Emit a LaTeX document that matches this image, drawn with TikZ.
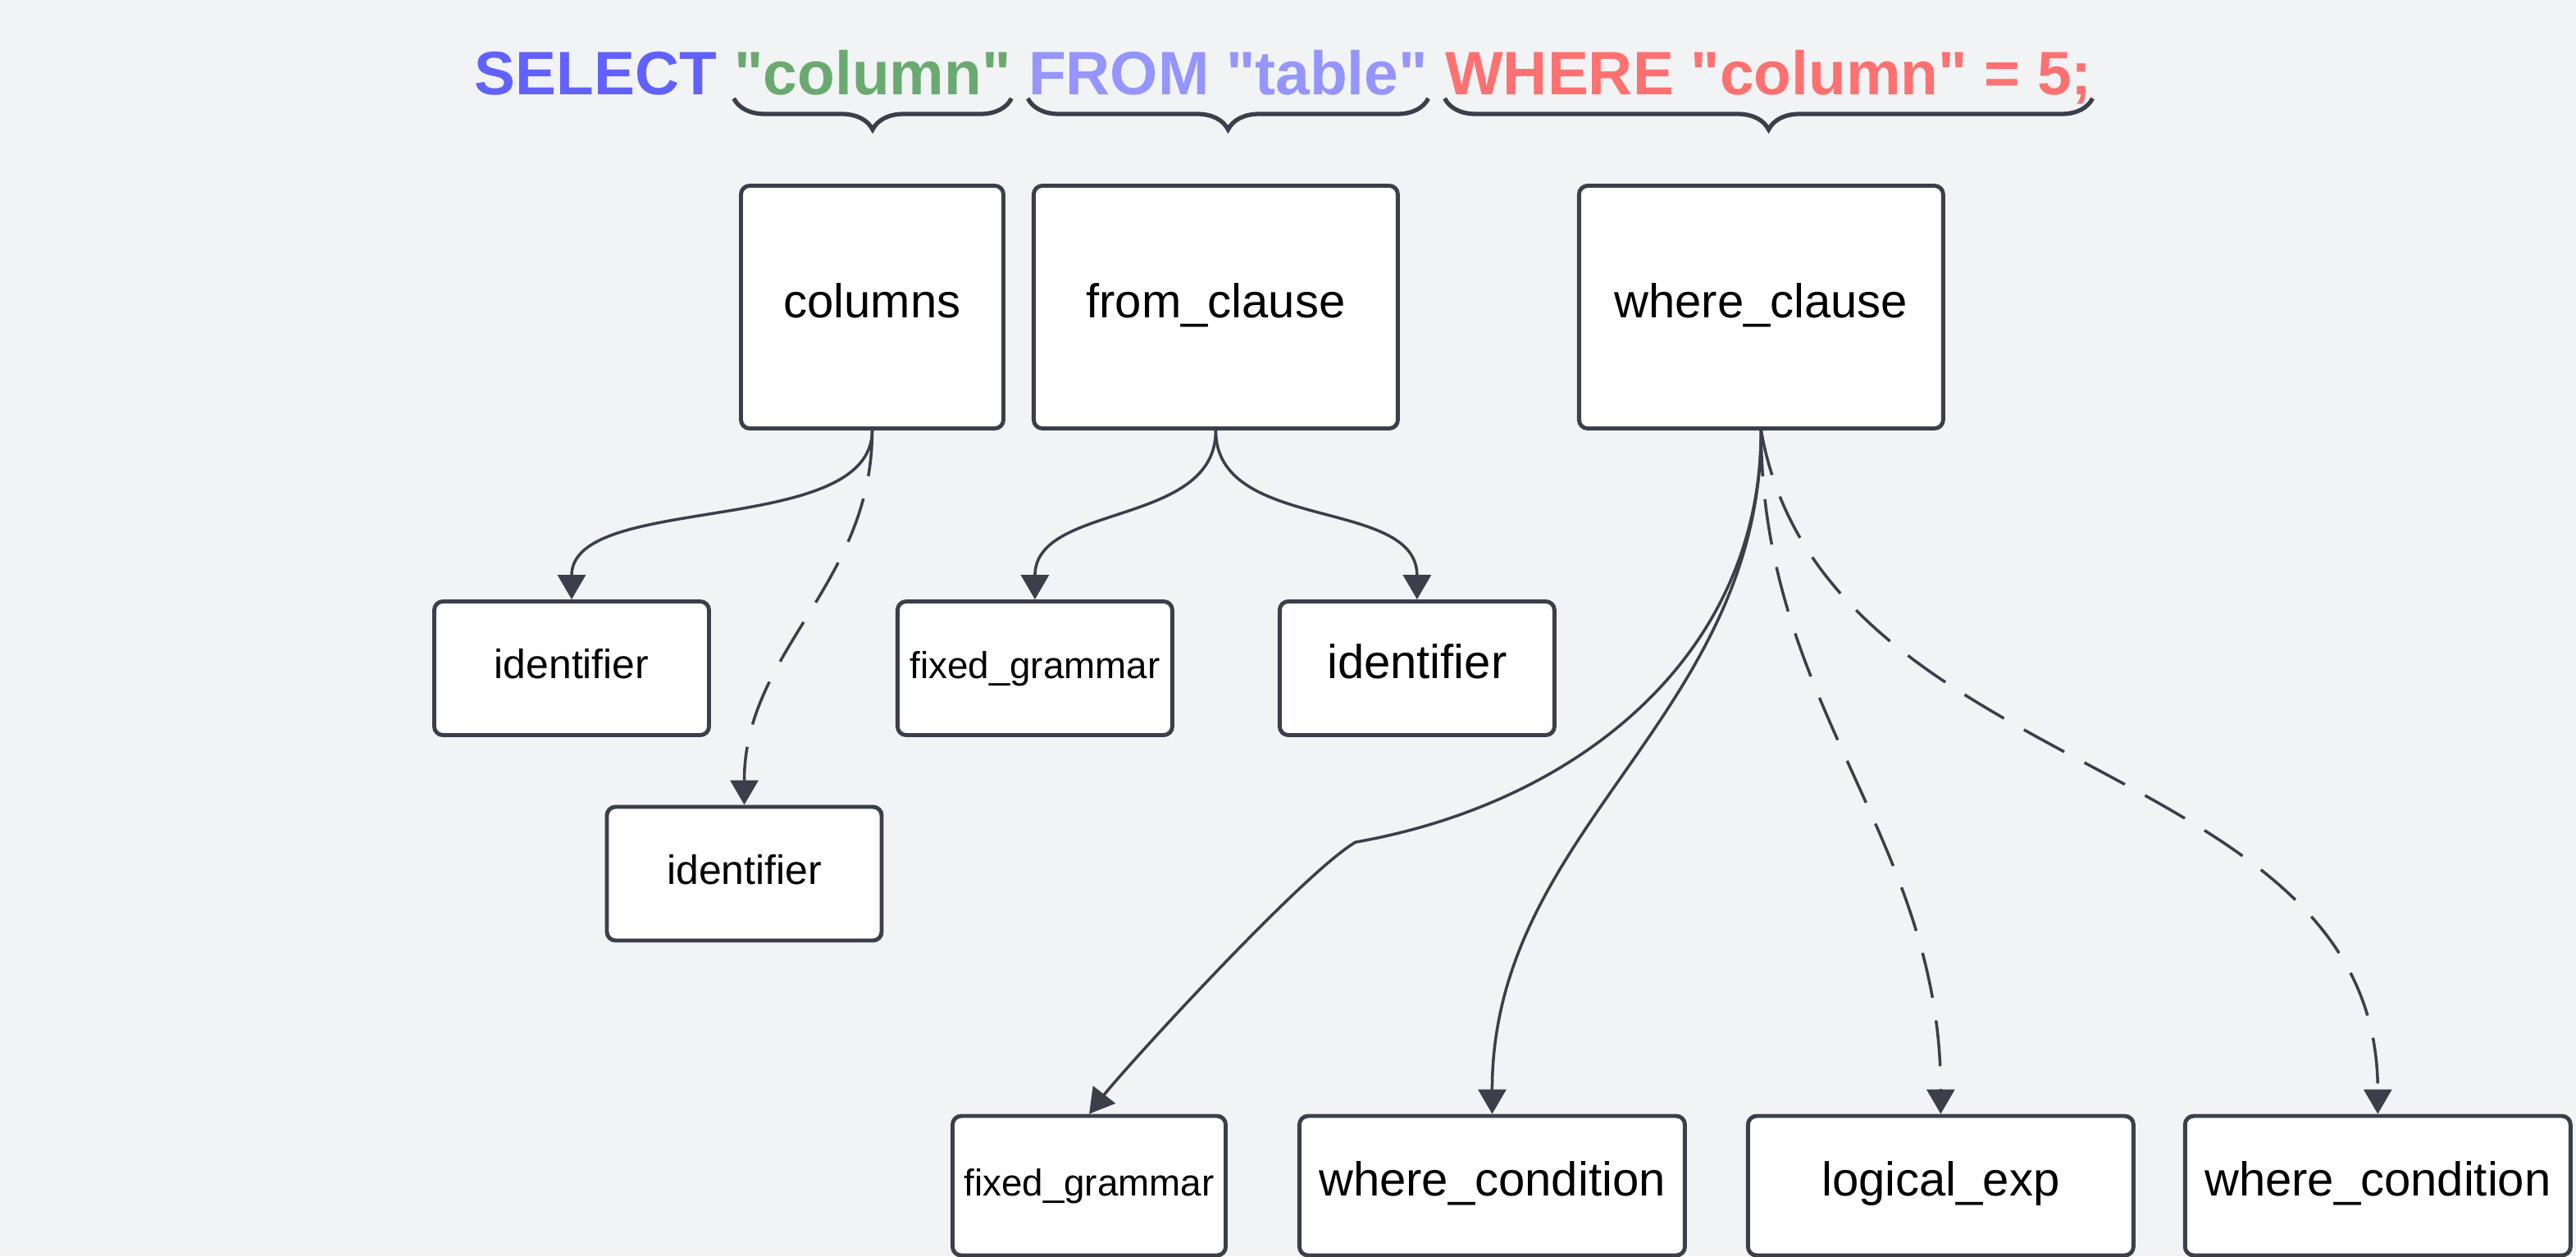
\documentclass[tikz,border=0pt]{standalone}
\usepackage{fontspec}
\setmainfont{Liberation Sans}[Ligatures=TeXOff]
\usetikzlibrary{arrows.meta, positioning, decorations.pathreplacing}
\definecolor{bgcol}{HTML}{F2F3F5}
\definecolor{edgecol}{HTML}{3A3F4A}
\definecolor{selcol}{HTML}{6161FF}
\definecolor{colcol}{HTML}{6AAA70}
\definecolor{fromcol}{HTML}{9595FF}
\definecolor{wherecol}{HTML}{FF7171}
\tikzset{
  bigbox/.style={rectangle, rounded corners=3pt, draw=edgecol, line width=1.4pt, fill=white,
    minimum height=2.96cm, text centered, text height=0.9em, text depth=0.18em,
    font=\fontsize{16.5}{18}\selectfont},
  midbox/.style={rectangle, rounded corners=3pt, draw=edgecol, line width=1.4pt, fill=white,
    minimum width=3.35cm, minimum height=1.63cm, text centered, text height=0.9em, text depth=0.18em,
    font=\fontsize{14.2}{16}\selectfont},
  lowbox/.style={rectangle, rounded corners=3pt, draw=edgecol, line width=1.4pt, fill=white,
    minimum width=4.7cm, minimum height=1.7cm, text centered, text height=0.9em, text depth=0.18em,
    font=\fontsize{16.5}{18}\selectfont},
  smalltext/.style={font=\fontsize{13}{15}\selectfont},
  bigtext/.style={font=\fontsize{16.5}{18}\selectfont},
  sqlpart/.style={inner sep=0pt, font=\fontsize{21.3}{24}\selectfont\bfseries},
  arr/.style={-{Triangle[length=0.3cm, width=0.34cm]}, line width=1pt, draw=edgecol},
  darr/.style={arr, dash pattern=on 0.56cm off 0.28cm},
  grp/.style={decorate, decoration={brace, mirror, amplitude=0.38cm}, line width=1.5pt, draw=edgecol},
}

\begin{document}
\begin{tikzpicture}
  \fill[bgcol] (0,0) rectangle (31.41,-15.32);
  \useasboundingbox (0,0) rectangle (31.41,-15.32);

  % Query
  \node[sqlpart, anchor=base west, text=selcol] (sel) at (5.78,-1.15) {SELECT};
  \node[sqlpart, base right=0.2cm of sel, text=colcol] (colq) {"column"};
  \node[sqlpart, base right=0.2cm of colq, text=fromcol] (fromq) {FROM "table"};
  \node[sqlpart, base right=0.2cm of fromq, text=wherecol] (whereq) {WHERE "column" = 5;};

  \draw[grp] ([yshift=-0.05cm]colq.base west) -- ([yshift=-0.05cm]colq.base east);
  \draw[grp] ([yshift=-0.05cm]fromq.base west) -- ([yshift=-0.05cm]fromq.base east);
  \draw[grp] ([yshift=-0.05cm]whereq.base west) -- ([yshift=-0.05cm]whereq.base east);

  % Clauses
  \node[bigbox, minimum width=3.2cm] (cols) at (10.635,-3.745) {columns};
  \node[bigbox, minimum width=4.44cm, right=0.32cm of cols] (from) {from\_clause};
  \node[bigbox, minimum width=4.44cm, right=2.16cm of from] (where) {where\_clause};

  % Second level
  \node[midbox] (idA) at (6.97,-8.15) {identifier};
  \node[midbox, smalltext, right=2.25cm of idA] (fixA) {fixed\_grammar};
  \node[midbox, bigtext, right=1.26cm of fixA] (idC) {identifier};
  \node[midbox] (idB) at (9.075,-10.655) {identifier};

  % Where parts
  \node[lowbox, smalltext, minimum width=3.33cm] (fixB) at (13.28,-14.46) {fixed\_grammar};
  \node[lowbox, right=0.85cm of fixB] (condA) {where\_condition};
  \node[lowbox, right=0.72cm of condA] (logic) {logical\_exp};
  \node[lowbox, right=0.58cm of logic] (condB) {where\_condition};

  \coordinate (kink) at (16.53,-10.27);

  % Arrows
  \draw[arr] (cols.south) to[out=-90, in=90, looseness=0.8] (idA.north);
  \draw[darr] (cols.south) to[out=-90, in=90] (idB.north);
  \draw[arr] (from.south) to[out=-90, in=90] (fixA.north);
  \draw[arr] (from.south) to[out=-90, in=90] (idC.north);
  \draw[arr] (where.south) to[out=-90, in=10] (kink) to[out=210, in=52, looseness=0.4] (fixB.north);
  \draw[arr] (where.south) to[out=-90, in=90] (condA.north);
  \draw[darr] (where.south) to[out=-90, in=90] (logic.north);
  \draw[darr] (where.south) to[out=-80, in=90] (condB.north);
\end{tikzpicture}
\end{document}
